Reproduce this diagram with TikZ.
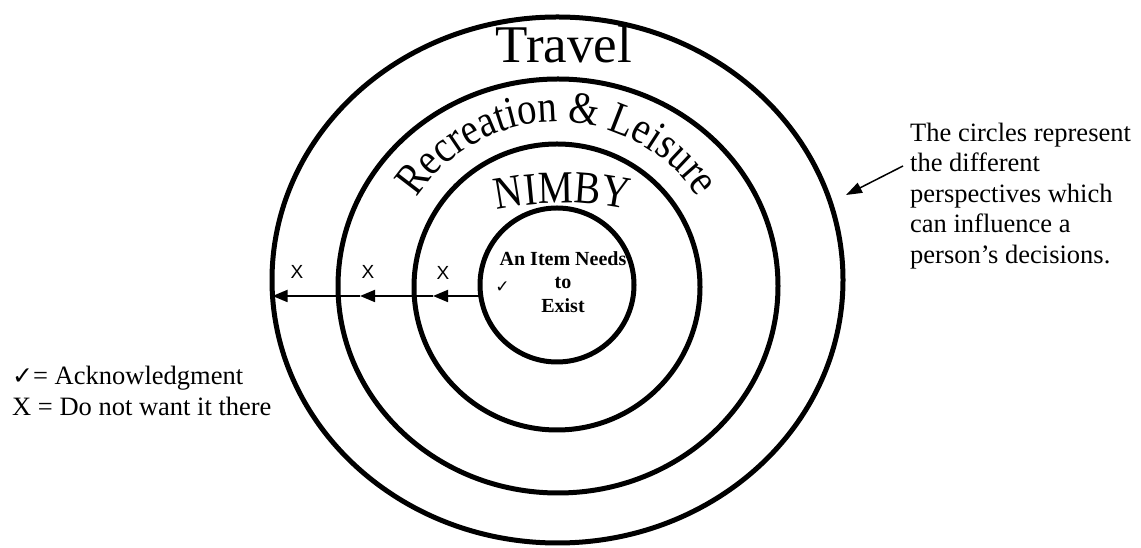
\documentclass[tikz,border=0pt]{standalone}
\usepackage{fontspec}
\setmainfont{Liberation Serif}
\setsansfont{Liberation Sans}
\newfontfamily\symfont{DejaVu Sans}
\newfontfamily\arcfont[FakeStretch=0.86]{Liberation Serif}
\usetikzlibrary{arrows.meta,decorations.text,shapes.geometric}
\begin{document}
\begin{tikzpicture}[x=1pt,y=1pt,
  ring/.style={draw=black, line width=5pt, inner sep=0pt},
  arr/.style={line width=1.8pt, -{Triangle[length=15pt,width=12pt]}},
  pointer/.style={line width=1.5pt, -{Triangle[length=16pt,width=11pt]}},
  lab/.style={inner sep=0pt, anchor=base west, font=\fontsize{26.5}{31}\selectfont},
  core/.style={inner sep=0pt, anchor=base, font=\bfseries\fontsize{20}{20}\selectfont},
  xmark/.style={inner sep=0pt, font=\sffamily\fontsize{19}{19}\selectfont},
]
\useasboundingbox (0,0) rectangle (1141,548);

% rings
\node (outer) [ring, ellipse, minimum width=571pt, minimum height=526pt] at (557.5,268) {};
\node (second) [ring, ellipse, minimum width=440pt, minimum height=414pt] at (558,262) {};
\node (third) [ring, circle, minimum size=286pt] at (557,261) {};
\node (inner) [ring, circle, minimum size=154pt] at (557,263) {};

% titles
\node (travel) [inner sep=0pt, anchor=base, font=\fontsize{53}{53}\selectfont] at (564,485) {Travel};
\path[decorate, decoration={text along path, text align=center,
  text={|\arcfont\fontsize{46}{46}\selectfont|NIMBY}}]
  ([shift={(110:320)}]562.5,25) arc[start angle=110, end angle=70, radius=320];
\path[decorate, decoration={text along path, text align=center,
  text={|\arcfont\fontsize{45}{45}\selectfont|Recreation {\&} Leisure}}]
  ([shift={(150:168)}]557,258) arc[start angle=150, end angle=30, radius=168];

% core text
\node (c1) [core] at (563,282.3) {An Item Needs};
\node (c2) [core] at (563,259) {to};
\node (c3) [core] at (563,235.4) {Exist};
\node (ck) [inner sep=0pt, font=\symfont\fontsize{17}{17}\selectfont] at (502.5,261) {✓};

% arrows outward
\coordinate (a0) at (480.8,252);
\coordinate (t3) at (433,252);
\coordinate (t2) at (360,252);
\coordinate (t1) at (272.5,252);
\draw[arr] (a0) -- (t3);
\draw[arr] (t3) -- (t2);
\draw[arr] (t2) -- (t1);
\node (x1) [xmark] at (297,276) {X};
\node (x2) [xmark] at (368,276) {X};
\node (x3) [xmark] at (443,275) {X};

% legend
\node (lg1) [lab] at (12,163) {{\symfont\fontsize{25}{25}\selectfont ✓}= Acknowledgment};
\node (lg2) [lab] at (12,132) {X = Do not want it there};

% annotation
\node (n1) [lab] at (910,406.5) {The circles represent};
\node (n2) [lab] at (910,376) {the different};
\node (n3) [lab] at (910,345.5) {perspectives which};
\node (n4) [lab] at (910,315) {can influence a};
\node (n5) [lab] at (910,284.5) {person’s decisions.};
\coordinate (pstart) at (903,382);
\coordinate (ptr) at (846,353);
\draw[pointer] (pstart) -- (ptr);
\end{tikzpicture}
\end{document}
